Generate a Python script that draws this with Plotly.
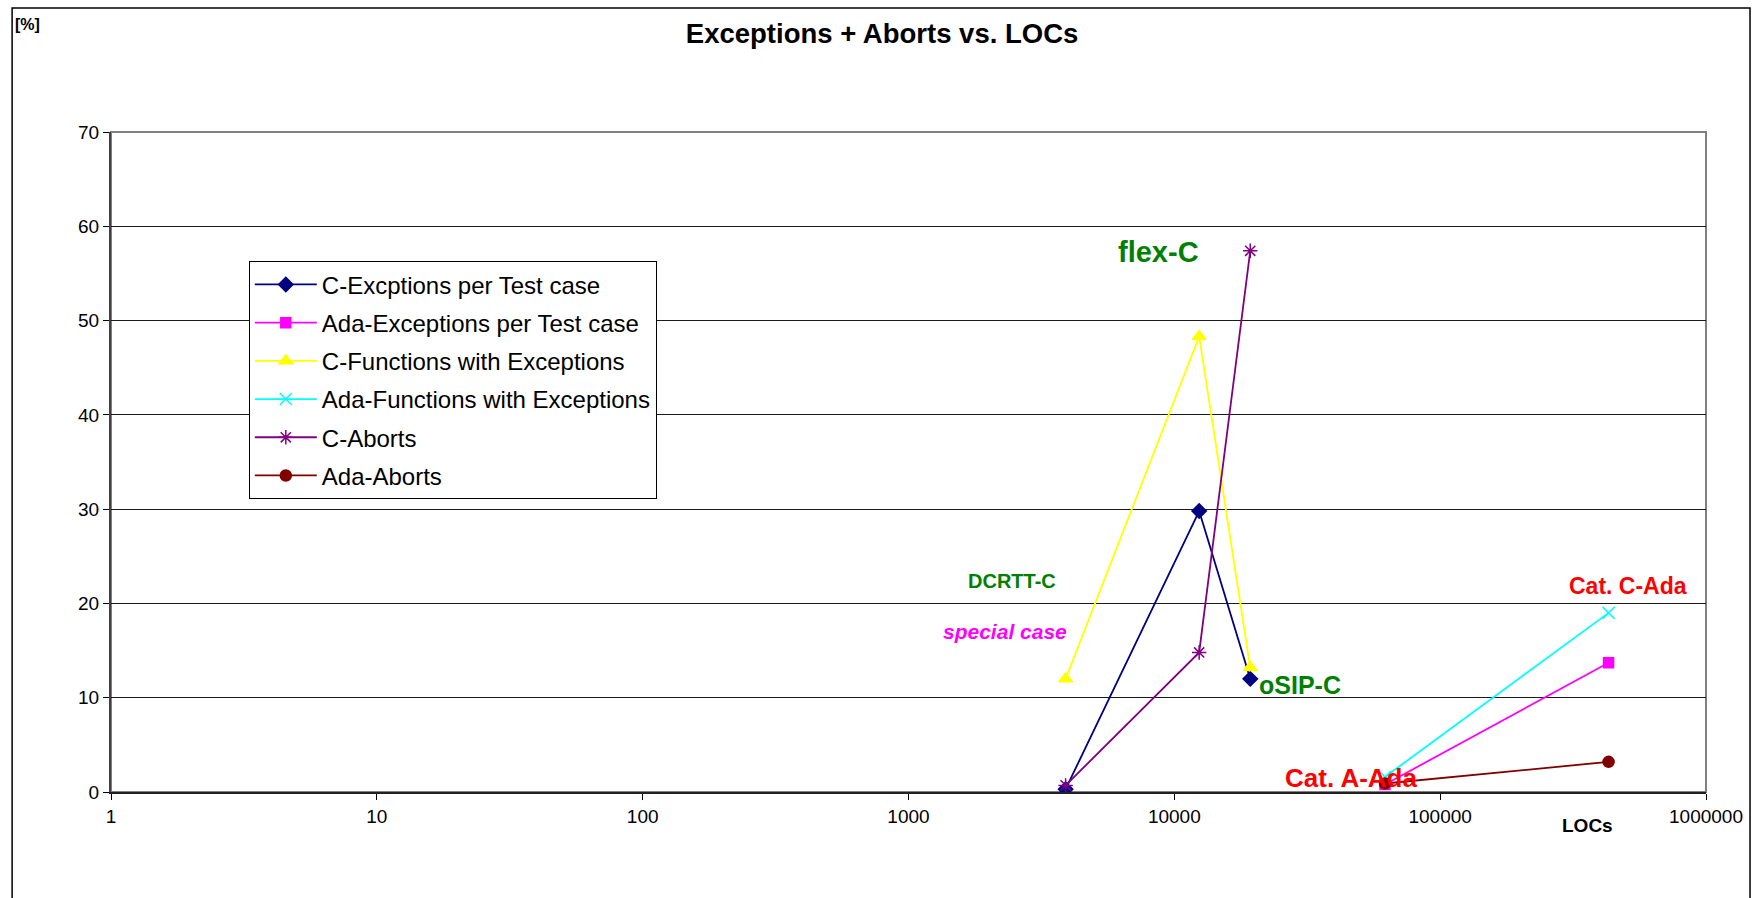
import plotly.graph_objects as go

# Lines of code per project
c_locs = [3900, 12400, 19300]
ada_locs = [62000, 430000]

# Percentages per series
c_exceptions_per_test = [0.3, 29.8, 12.0]
ada_exceptions_per_test = [0.8, 13.7]
c_functions_with_exc = [12.0, 48.3, 13.2]
ada_functions_with_exc = [1.6, 19.0]
c_aborts = [0.7, 14.8, 57.4]
ada_aborts = [0.9, 3.2]

series_names = [
    "C-Excptions per Test case",
    "Ada-Exceptions per Test case",
    "C-Functions with Exceptions",
    "Ada-Functions with Exceptions",
    "C-Aborts",
    "Ada-Aborts",
]

x_tick_vals = [1, 10, 100, 1000, 10000, 100000, 1000000]
x_tick_text = ["1", "10", "100", "1000", "10000", "100000", "1000000"]
y_tick_vals = [0, 10, 20, 30, 40, 50, 60, 70]

FONT = "Liberation Sans, Arial, sans-serif"

styles = [
    dict(color="#000080", symbol="diamond", size=11),
    dict(color="#FF00FF", symbol="square", size=10),
    dict(color="#FFFF00", symbol="triangle-up", size=12),
    dict(color="#00FFFF", symbol="x-thin-open", size=12),
    dict(color="#800080", symbol="asterisk-open", size=12),
    dict(color="#800000", symbol="circle", size=11),
]
xs = [c_locs, ada_locs, c_locs, ada_locs, c_locs, ada_locs]
ys = [c_exceptions_per_test, ada_exceptions_per_test, c_functions_with_exc,
      ada_functions_with_exc, c_aborts, ada_aborts]

fig = go.Figure()
for i, (name, st, x, y) in enumerate(zip(series_names, styles, xs, ys)):
    fig.add_trace(go.Scatter(
        x=x, y=y, name=name, mode="lines+markers",
        legendgroup=f"g{i}",
        line=dict(color=st["color"], width=1.8),
        marker=dict(color=st["color"], symbol=st["symbol"], size=st["size"],
                    line=dict(color=st["color"], width=1.5)),
    ))

ann = []
def label(text, x_val, y_val, color, size, italic=False):
    ann.append(dict(
        x=x_val, y=y_val, xref="x", yref="y", showarrow=False,
        text=(f"<i><b>{text}</b></i>" if italic else f"<b>{text}</b>"),
        font=dict(family=FONT, size=size, color=color),
        xanchor="center", yanchor="middle",
    ))

# project labels (x given as log10 of LOCs)
label("flex-C", 3.941, 57.3, "#008000", 29)
label("DCRTT-C", 3.388, 22.4, "#008000", 20)
label("special case", 3.362, 17.0, "#FF00FF", 21, italic=True)
label("oSIP-C", 4.474, 11.3, "#008000", 25)
label("Cat. A-Ada", 4.666, 1.5, "#FF0000", 26)
label("Cat. C-Ada", 5.706, 21.8, "#FF0000", 23)

ann.append(dict(text="<b>[%]</b>", xref="paper", yref="paper", x=-0.0612, y=1.1626,
                xanchor="left", yanchor="middle", showarrow=False,
                font=dict(family=FONT, size=16, color="black")))
ann.append(dict(text="<b>LOCs</b>", xref="paper", yref="paper", x=0.926, y=-0.0507,
                xanchor="center", yanchor="middle", showarrow=False,
                font=dict(family=FONT, size=19, color="black")))

fig.update_layout(
    width=1755, height=898,
    margin=dict(l=111, r=47, t=132, b=105.5, pad=0),
    paper_bgcolor="white", plot_bgcolor="white",
    font=dict(family=FONT, color="black"),
    title=dict(text="<b>Exceptions + Aborts vs. LOCs</b>", x=0.5026, xref="container",
               xanchor="center", y=1 - 33.5 / 898, yref="container", yanchor="middle",
               font=dict(family=FONT, size=27.5, color="black")),
    showlegend=True,
    legend=dict(x=0.0864, y=0.804, xanchor="left", yanchor="top",
                bordercolor="black", borderwidth=1, bgcolor="white",
                font=dict(family=FONT, size=24, color="black"),
                itemwidth=62, tracegroupgap=4, traceorder="grouped"),
    annotations=ann,
    shapes=[
        # plot area frame (top and right edges in gray)
        dict(type="rect", xref="paper", yref="paper", x0=0, x1=1, y0=0, y1=1,
             line=dict(color="#808080", width=2), layer="below"),
        # outer chart frame
        dict(type="rect", xref="paper", yref="paper", x0=-0.062, x1=1.0276,
             y0=-0.2, y1=1.1878, line=dict(color="black", width=1.5)),
    ],
)

fig.update_xaxes(
    type="log", range=[0, 6],
    tickvals=x_tick_vals, ticktext=x_tick_text,
    ticks="outside", ticklen=6, tickcolor="black", tickwidth=1,
    showgrid=False, showline=True, linecolor="#202020", linewidth=2,
    tickfont=dict(family=FONT, size=19, color="black"), zeroline=False,
)
fig.update_yaxes(
    range=[0, 70], tickvals=y_tick_vals,
    ticks="outside", ticklen=6, tickcolor="black", tickwidth=1,
    showgrid=True, gridcolor="#1a1a1a", gridwidth=1,
    showline=True, linecolor="#404040", linewidth=2,
    tickfont=dict(family=FONT, size=19, color="black"), zeroline=False,
)

fig.write_html("out.html")
